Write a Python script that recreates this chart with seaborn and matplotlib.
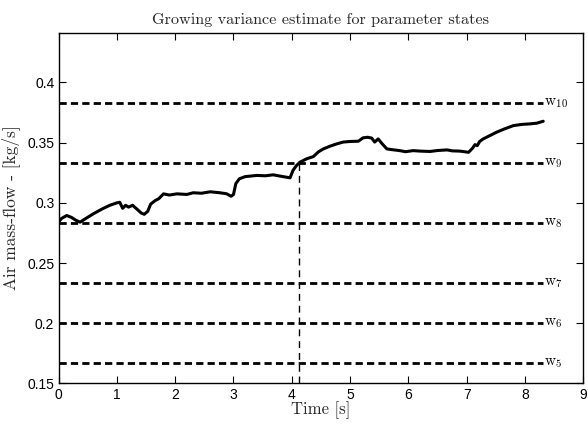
import matplotlib
matplotlib.use("Agg")
import matplotlib.pyplot as plt
import seaborn as sns
import pandas as pd

time_s = [0.00, 0.05, 0.14, 0.22, 0.30, 0.37, 0.45, 0.60, 0.75, 0.88, 1.00, 1.05, 1.10, 1.15,
          1.20, 1.27, 1.34, 1.42, 1.47, 1.53, 1.58, 1.66, 1.72, 1.80, 1.90, 2.03, 2.20, 2.31,
          2.45, 2.60, 2.75, 2.88, 2.96, 3.00, 3.04, 3.10, 3.20, 3.40, 3.55, 3.68, 3.85, 3.97,
          4.02, 4.08, 4.14, 4.25, 4.37, 4.46, 4.54, 4.65, 4.77, 4.88, 5.00, 5.14, 5.22, 5.30,
          5.37, 5.42, 5.48, 5.55, 5.63, 5.75, 5.85, 5.95, 6.08, 6.20, 6.37, 6.50, 6.66, 6.75,
          6.88, 7.03, 7.10, 7.14, 7.18, 7.22, 7.28, 7.40, 7.51, 7.65, 7.80, 7.95, 8.08, 8.20, 8.31]
air_flow = [0.284, 0.287, 0.2895, 0.288, 0.2855, 0.284, 0.2865, 0.291, 0.295, 0.298, 0.300, 0.3005,
            0.2955, 0.298, 0.2965, 0.298, 0.295, 0.2915, 0.2905, 0.293, 0.299, 0.302, 0.3035,
            0.3075, 0.3065, 0.3075, 0.307, 0.3084, 0.308, 0.3092, 0.3085, 0.3076, 0.3055, 0.307,
            0.316, 0.320, 0.3218, 0.3228, 0.3225, 0.3233, 0.3218, 0.3208, 0.327, 0.331, 0.3338,
            0.3365, 0.3385, 0.3425, 0.3448, 0.347, 0.349, 0.3505, 0.351, 0.3512, 0.354, 0.3545,
            0.3538, 0.3505, 0.3531, 0.349, 0.3448, 0.344, 0.3434, 0.3425, 0.3434, 0.343, 0.3427,
            0.3435, 0.344, 0.3432, 0.343, 0.342, 0.3455, 0.3484, 0.3475, 0.351, 0.3531, 0.356,
            0.3587, 0.3615, 0.3642, 0.3652, 0.3656, 0.3662, 0.3678]

state_names = ["5", "6", "7", "8", "9", "10"]
state_values = [0.1667, 0.2, 0.2333, 0.2833, 0.3333, 0.3833]
state_end = 8.3
marker_time = 4.13
marker_value = 0.3333

sns.set_style("ticks")
plt.rcParams["mathtext.fontset"] = "cm"
plt.rcParams["font.family"] = ["Liberation Sans", "DejaVu Sans"]

fig = plt.figure(figsize=(5.88, 4.26), dpi=100)
ax = fig.add_axes([0.0995, 0.0998, 0.8928, 0.8239])

df = pd.DataFrame({"t": time_s, "v": air_flow})
sns.lineplot(data=df, x="t", y="v", ax=ax, color="black", linewidth=2.2)

for name, val in zip(state_names, state_values):
    ax.plot([0, state_end], [val, val], color="black", linewidth=2.0,
            dashes=(2.6, 1.5))
    ax.text(state_end + 0.02, val, r"$\mathrm{w}_{%s}$" % name, fontsize=11,
            va="center", ha="left", color="black")

ax.plot([marker_time, marker_time], [0.15, marker_value], color="black",
        linewidth=1.0, dashes=(5, 3.5))

ax.set_xlim(0, 9)
ax.set_ylim(0.15, 0.4415)
ax.set_xticks(range(0, 10))
ax.set_yticks([0.15, 0.2, 0.25, 0.3, 0.35, 0.4])
ax.set_yticklabels(["0.15", "0.2", "0.25", "0.3", "0.35", "0.4"])
ax.tick_params(direction="in", top=True, right=True, length=5, width=0.8,
               labelsize=10, colors="black", pad=3)
for s in ax.spines.values():
    s.set_linewidth(1.0)
    s.set_color("black")

ax.set_title("Growing variance estimate for parameter states",
             fontsize=11.7, pad=6, family="cmr10")
ax.set_xlabel("Time [s]", fontsize=12, labelpad=0, family="cmr10")
ax.set_ylabel("Air mass-flow - [kg/s]", fontsize=12.5, labelpad=5, family="cmr10")

fig.savefig("out.png", dpi=100)
